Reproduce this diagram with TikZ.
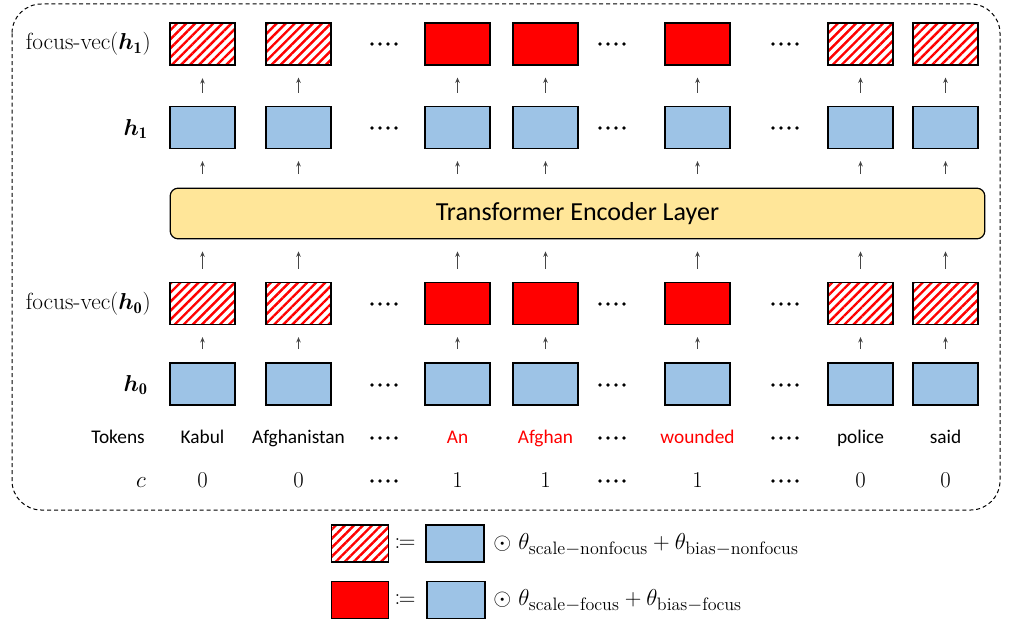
\documentclass[tikz,border=0pt]{standalone}
\usepackage{fontspec}
\usepackage{amsmath,bm,mathtools}
\usetikzlibrary{patterns.meta,arrows.meta}
\DeclareMathSizes{18}{18}{13.5}{10}
\newfontfamily\calfont{Carlito}
\definecolor{boxblue}{RGB}{157,195,230}
\definecolor{layeryellow}{RGB}{255,230,153}
\definecolor{arrgray}{RGB}{70,70,70}
\tikzset{
  vecbox/.style={draw=black,line width=0.9pt,minimum width=48.75pt,minimum height=31.5pt,inner sep=0pt},
  bluebox/.style={vecbox,fill=boxblue},
  redbox/.style={vecbox,fill=red},
  hatchbox/.style={vecbox,pattern={Lines[angle=45,distance=4.8pt,line width=1.8pt]},pattern color=red},
  upar/.style={draw=arrgray,line width=0.75pt,-{Stealth[length=4pt,width=3.4pt]},shorten <=10pt,shorten >=9pt},
  tok/.style={font=\calfont\fontsize{14.5}{17}\selectfont,inner sep=0pt,anchor=base},
  num/.style={font=\fontsize{17}{20}\selectfont,inner sep=0pt,anchor=base},
  rowlab/.style={font=\fontsize{17.5}{21}\selectfont,inner sep=0pt,anchor=east},
  legtext/.style={anchor=west,inner sep=0pt,font=\fontsize{18}{21}\selectfont},
}
\begin{document}
\begin{tikzpicture}[x=0.75pt,y=-0.75pt]
\useasboundingbox (0,0) rectangle (1010,635);
% outer dashed frame
\draw[line width=0.75pt,dash pattern=on 3pt off 2.2pt,rounded corners=22pt] (12,4) rectangle (1000,510);
% row labels
\node[rowlab] (lfv1) at (151,44) {focus-vec$(\bm{h}_{\mathbf{1}})$};
\node[rowlab] (lh1) at (148,129) {$\bm{h}_{\mathbf{1}}$};
\node[rowlab] (lfv0) at (151,304) {focus-vec$(\bm{h}_{\mathbf{0}})$};
\node[rowlab] (lh0) at (148,385) {$\bm{h}_{\mathbf{0}}$};
\node[tok,anchor=base east] (ltok) at (145,443) {Tokens};
\node[num,anchor=base east] (lc) at (146,487) {$c$};
% transformer layer
\node[draw=black,line width=0.9pt,fill=layeryellow,rounded corners=6pt,minimum width=611pt,minimum height=38pt,inner sep=0pt,font=\calfont\fontsize{19.5}{23}\selectfont] (trans) at (577.5,213.5) {Transformer Encoder Layer};
% columns
\foreach \i/\x/\f/\t/\c in {1/202.5/0/Kabul/0,2/298.5/0/Afghanistan/0,3/457.5/1/An/1,4/545.5/1/Afghan/1,5/697.5/1/wounded/1,6/860.5/0/police/0,7/945.5/0/said/0}{
  \ifnum\f=1
    \node[redbox] (fvA\i) at (\x,44) {};
    \node[redbox] (fvB\i) at (\x,303.5) {};
    \node[tok,text=red] (tk\i) at (\x,443) {\t};
  \else
    \node[hatchbox] (fvA\i) at (\x,44) {};
    \node[hatchbox] (fvB\i) at (\x,303.5) {};
    \node[tok] (tk\i) at (\x,443) {\t};
  \fi
  \node[bluebox] (hA\i) at (\x,127.5) {};
  \node[bluebox] (hB\i) at (\x,384) {};
  \node[num] (cc\i) at (\x,487) {\c};
  \draw[upar] (hA\i.north) -- (fvA\i.south);
  \draw[upar] (hB\i.north) -- (fvB\i.south);
  \draw[upar] (fvB\i.north) -- (fvB\i.north |- trans.south);
  \draw[upar] (hA\i.south |- trans.north) -- (hA\i.south);
}
% ellipsis dots
\foreach \gx in {384,612,785}{
  \foreach \ry in {44,128,304,385,438,481}{
    \foreach \dx in {-12,-4,4,12}{
      \fill (\gx+\dx,\ry) circle[radius=1.9];
    }
  }
}
% legend
\node[hatchbox,minimum width=42.75pt,minimum height=27.75pt] (lgh) at (360,543.5) {};
\node[font=\fontsize{18}{21}\selectfont] (eq1) at (405,543.5) {$\coloneqq$};
\node[bluebox,minimum width=43.5pt,minimum height=27.75pt] (lgb1) at (455,543.5) {};
\node[legtext] (lgt1) at (493,545) {$\odot\ \theta_{\mathrm{scale}-\mathrm{nonfocus}}+\theta_{\mathrm{bias}-\mathrm{nonfocus}}$};
\node[redbox,minimum width=42.75pt,minimum height=27.75pt] (lgr) at (360,600) {};
\node[font=\fontsize{18}{21}\selectfont] (eq2) at (405,600) {$\coloneqq$};
\node[bluebox,minimum width=43.5pt,minimum height=27.75pt] (lgb2) at (456,600) {};
\node[legtext] (lgt2) at (493,601) {$\odot\ \theta_{\mathrm{scale}-\mathrm{focus}}+\theta_{\mathrm{bias}-\mathrm{focus}}$};
\end{tikzpicture}
\end{document}
